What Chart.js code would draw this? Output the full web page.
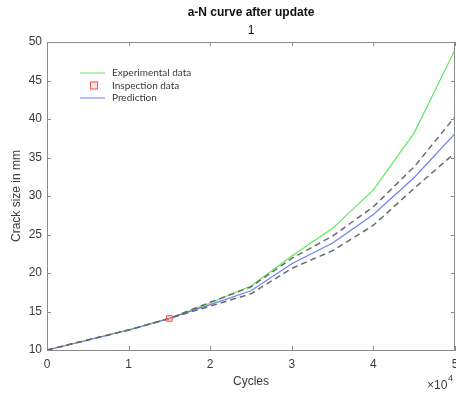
<!DOCTYPE html>
<html>
<head>
<meta charset="utf-8">
<script src="https://cdn.jsdelivr.net/npm/chart.js@4.4.0/dist/chart.umd.min.js"></script>
<style>
  html, body { margin: 0; padding: 0; background: #ffffff; }
  #wrap { width: 456px; height: 395px; position: relative; }
</style>
</head>
<body>
<div id="wrap"><canvas id="c" width="456" height="395"></canvas></div>
<script>
const cycles = [0, 5000, 10000, 15000, 20000, 25000, 30000, 35000, 40000, 45000, 50000];
const experimental = [10, 11.3, 12.6, 14.1, 16.1, 18.3, 22.2, 25.8, 30.8, 38.2, 49.0];
const prediction   = [10, 11.3, 12.6, 14.1, 15.9, 17.7, 21.2, 23.9, 27.6, 32.4, 38.1];
const upperBound   = [10, 11.3, 12.6, 14.1, 16.2, 18.2, 21.9, 24.8, 28.6, 33.8, 40.3];
const lowerBound   = [10, 11.3, 12.6, 14.1, 15.7, 17.3, 20.6, 22.9, 26.2, 31.0, 35.6];
const inspectionCycles = [15000];
const inspectionSizes = [14.1];
const titleText = 'a-N curve after update';
const subtitleText = '1';
const legendLabels = ['Experimental data', 'Inspection data', 'Prediction'];

const FONT = "'Liberation Sans', Arial, sans-serif";
const AXIS_COLOR = '#8a8a8a';
const TEXT_COLOR = '#3a3a3a';
const GREEN = '#5fe85f';
const BLUE = '#6f7ff0';
const DASH = '#6a6a6a';
const RED = '#f05555';

const pts = (xs, ys) => xs.map((x, i) => ({x: x, y: ys[i]}));

const decor = {
  id: 'decor',
  afterDraw(chart) {
    const {ctx, chartArea: a, scales: {x, y}} = chart;
    ctx.save();
    ctx.strokeStyle = AXIS_COLOR;
    ctx.lineWidth = 1;
    ctx.beginPath();
    ctx.moveTo(a.left, a.top + 0.5); ctx.lineTo(a.right, a.top + 0.5);
    ctx.moveTo(a.right - 0.5, a.top); ctx.lineTo(a.right - 0.5, a.bottom);
    x.ticks.forEach(t => {
      const px = Math.round(x.getPixelForValue(t.value)) + 0.5;
      ctx.moveTo(px, a.bottom); ctx.lineTo(px, a.bottom - 4);
      ctx.moveTo(px, a.top); ctx.lineTo(px, a.top + 4);
    });
    y.ticks.forEach(t => {
      const py = Math.round(y.getPixelForValue(t.value)) + 0.5;
      ctx.moveTo(a.left, py); ctx.lineTo(a.left + 4, py);
      ctx.moveTo(a.right, py); ctx.lineTo(a.right - 4, py);
    });
    ctx.stroke();

    ctx.fillStyle = '#111';
    ctx.textAlign = 'center';
    ctx.textBaseline = 'middle';
    const cx = (a.left + a.right) / 2;
    ctx.font = 'bold 12px ' + FONT;
    ctx.fillText(titleText, cx, 13);
    ctx.font = '12px ' + FONT;
    ctx.fillText(subtitleText, cx, 31);

    ctx.fillStyle = TEXT_COLOR;
    ctx.textAlign = 'left';
    ctx.font = '12px ' + FONT;
    ctx.fillText('\u00d710', 427, 386);
    ctx.font = '9px ' + FONT;
    ctx.fillText('4', 448, 379);

    const lx = 80, ly = 73, gap = 12.5;
    ctx.font = '10px Lato, ' + FONT;
    ctx.textBaseline = 'middle';
    ctx.fillStyle = TEXT_COLOR;
    ctx.lineWidth = 1;
    ctx.strokeStyle = GREEN;
    ctx.beginPath(); ctx.moveTo(lx, ly); ctx.lineTo(lx + 25, ly); ctx.stroke();
    ctx.fillText(legendLabels[0], lx + 32, ly);
    ctx.strokeStyle = RED;
    ctx.fillStyle = 'rgba(255,170,170,0.35)';
    ctx.fillRect(lx + 10, ly + gap - 4, 8, 8);
    ctx.strokeRect(lx + 10.5, ly + gap - 3.5, 7, 7);
    ctx.fillStyle = TEXT_COLOR;
    ctx.fillText(legendLabels[1], lx + 32, ly + gap);
    ctx.strokeStyle = BLUE;
    ctx.beginPath(); ctx.moveTo(lx, ly + 2 * gap); ctx.lineTo(lx + 25, ly + 2 * gap); ctx.stroke();
    ctx.fillText(legendLabels[2], lx + 32, ly + 2 * gap);
    ctx.restore();
  }
};

new Chart(document.getElementById('c'), {
  type: 'line',
  data: {
    datasets: [
      {label: legendLabels[0], data: pts(cycles, experimental), borderColor: GREEN, borderWidth: 1.2, pointRadius: 0, tension: 0, order: 4},
      {label: legendLabels[2], data: pts(cycles, prediction), borderColor: BLUE, borderWidth: 1.2, pointRadius: 0, tension: 0, order: 3},
      {label: 'Upper bound', data: pts(cycles, upperBound), borderColor: DASH, borderWidth: 1.5, borderDash: [6, 4], pointRadius: 0, tension: 0, order: 2},
      {label: 'Lower bound', data: pts(cycles, lowerBound), borderColor: DASH, borderWidth: 1.5, borderDash: [6, 4], pointRadius: 0, tension: 0, order: 2},
      {label: legendLabels[1], data: pts(inspectionCycles, inspectionSizes), showLine: false, pointStyle: 'rect', pointRadius: 4, borderWidth: 1, borderColor: RED, backgroundColor: 'rgba(255,150,150,0.4)', order: 1}
    ]
  },
  options: {
    responsive: false,
    animation: false,
    devicePixelRatio: 1,
    layout: {autoPadding: false, padding: {top: 42, right: 1, left: 0, bottom: 0}},
    plugins: {legend: {display: false}, tooltip: {enabled: false}, title: {display: false}},
    scales: {
      x: {
        type: 'linear', min: 0, max: 50000,
        grid: {display: false, drawTicks: false},
        border: {display: true, color: AXIS_COLOR},
        ticks: {stepSize: 10000, padding: 7, color: TEXT_COLOR, font: {family: FONT, size: 12}, maxRotation: 0,
                callback: v => String(v / 10000)},
        title: {display: true, text: 'Cycles', color: TEXT_COLOR, font: {family: FONT, size: 12}, padding: {bottom: 6, top: 0}},
        afterFit(s) { s.height = 45; s.paddingLeft = 0; s.paddingRight = 0; }
      },
      y: {
        type: 'linear', min: 10, max: 50,
        grid: {display: false, drawTicks: false},
        border: {display: true, color: AXIS_COLOR},
        ticks: {stepSize: 5, padding: 5, color: TEXT_COLOR, font: {family: FONT, size: 12}},
        title: {display: true, text: 'Crack size in mm', color: TEXT_COLOR, font: {family: FONT, size: 12}, padding: {top: 9, bottom: 0}},
        afterFit(s) { s.width = 47; s.paddingTop = 0; s.paddingBottom = 0; }
      }
    }
  },
  plugins: [decor]
});
</script>
</body>
</html>
